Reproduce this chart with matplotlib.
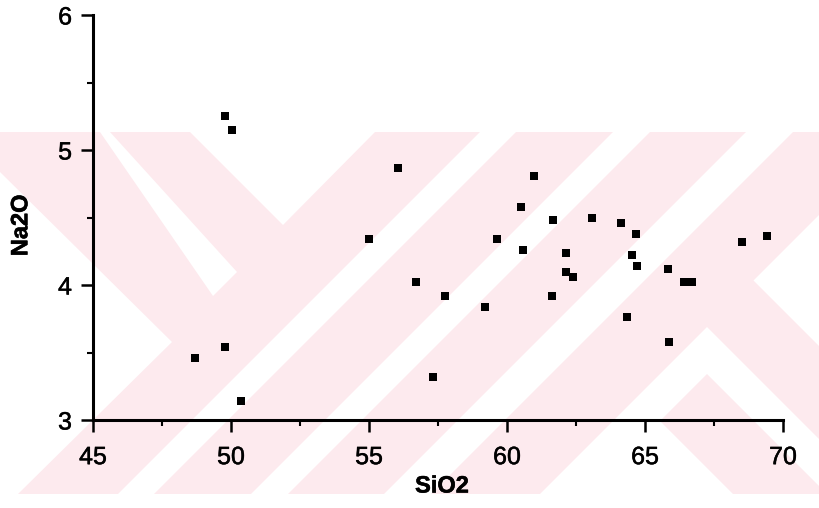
import matplotlib
matplotlib.use("Agg")
import matplotlib.pyplot as plt
import matplotlib.patheffects as pe
from matplotlib.patches import Polygon, Rectangle
from matplotlib.ticker import MultipleLocator

# SiO2 / Na2O values
sio2 = [49.78, 50.05, 48.70, 49.78, 50.36, 55.00, 56.06, 56.71, 57.75, 57.31,
        59.21, 59.65, 60.98, 60.51, 61.66, 63.08, 64.13, 64.66, 68.53, 69.41,
        60.59, 62.13, 64.52, 64.70, 62.15, 62.40, 65.84, 66.41, 66.70, 61.64,
        64.34, 65.86]
na2o = [5.25, 5.15, 3.46, 3.54, 3.14, 4.34, 4.87, 4.02, 3.92, 3.32,
        3.84, 4.34, 4.81, 4.58, 4.48, 4.50, 4.46, 4.38, 4.32, 4.36,
        4.26, 4.24, 4.22, 4.14, 4.10, 4.06, 4.12, 4.02, 4.02, 3.92,
        3.76, 3.58]

xticks = [45, 50, 55, 60, 65, 70]
yticks = [3, 4, 5, 6]

W, H = 820, 508
PINK = "#fdeaee"

fig = plt.figure(figsize=(W / 100, H / 100), dpi=100)
fig.patch.set_facecolor("white")

# background watermark (pixel coordinates, y down)
bg = fig.add_axes([0, 0, 1, 1], zorder=0)
bg.set_xlim(0, W)
bg.set_ylim(H, 0)
bg.axis("off")
top, bot = 132, 494
bg.add_patch(Rectangle((0, top), W, bot - top, color=PINK, lw=0))


def white(pts, col="white"):
    bg.add_patch(Polygon(pts, closed=True, color=col, lw=0))


white([(0, 172), (172, 342), (18, bot), (0, bot)])
white([(100, top), (110, top), (237, 272), (213, 296)])
white([(190, top), (283, 225), (375, top)])
for a, b in [(612, 648), (745, 782), (878, 925)]:
    white([(a - top, top), (b - top, top), (b - bot, bot), (a - bot, bot)])
white([(753.5, 280.5), (W, 214), (W, 347)])
white([(707, 327), (W, 440), (W, bot), (540, bot)])
white([(707, 374), (W, 487), (W, bot), (733, bot), (660, 421)], PINK)

# main plot
ax = fig.add_axes([93 / W, 1 - 420 / H, 690 / W, 405 / H], zorder=1)
ax.patch.set_alpha(0)
ax.scatter(sio2, na2o, marker="s", s=36, color="black", lw=0, zorder=3)

ax.set_xlim(45, 70)
ax.set_ylim(3, 6)
ax.set_xticks(xticks)
ax.set_yticks(yticks)
ax.xaxis.set_minor_locator(MultipleLocator(2.5))
ax.yaxis.set_minor_locator(MultipleLocator(0.5))

for s in ["top", "right"]:
    ax.spines[s].set_visible(False)
for s in ["left", "bottom"]:
    ax.spines[s].set_linewidth(2.2)
    ax.spines[s].set_capstyle("projecting")

fam = "Liberation Sans"
ax.tick_params(which="major", direction="out", length=8.6, width=1.8,
               labelsize=18, color="black")
ax.tick_params(which="minor", direction="out", length=4, width=1.5)
ax.tick_params(axis="x", which="major", pad=9.5)
ax.tick_params(axis="y", which="major", pad=6.5)
for lab in ax.get_xticklabels() + ax.get_yticklabels():
    lab.set_family(fam)
    lab.set_color("black")
    lab.set_path_effects([pe.withStroke(linewidth=0.35, foreground="black")])

lab_font = {"family": fam, "weight": "bold", "size": 17}
ax.set_xlabel("SiO2", fontdict=lab_font)
ax.set_ylabel("Na2O", fontdict=lab_font)
ax.xaxis.label.set_path_effects([pe.withStroke(linewidth=0.4, foreground="black")])
ax.yaxis.label.set_path_effects([pe.withStroke(linewidth=0.4, foreground="black")])
ax.xaxis.set_label_coords(0.5058, -0.1346)
ax.yaxis.set_label_coords(-0.088, 0.481)

fig.savefig("out.png", dpi=100)
